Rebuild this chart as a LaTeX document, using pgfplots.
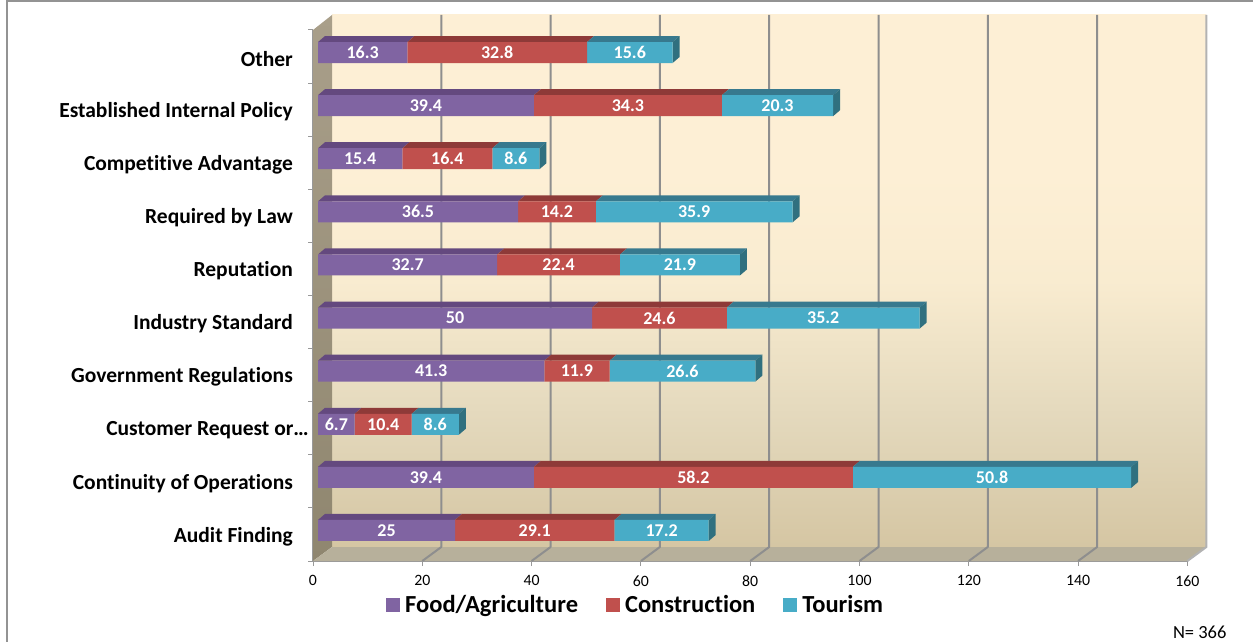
\documentclass[border=0pt]{standalone}
\usepackage{pgfplots}
\usepackage{pgfplotstable}
\usepackage{fontspec}
\setmainfont[Ligatures=NoCommon]{Carlito}
\pgfplotsset{compat=1.18}

% Value table: row position, then one column per sector
\pgfplotstableread{
pos food constr tour
0 25 29.1 17.2
1 39.4 58.2 50.8
2 6.7 10.4 8.6
3 41.3 11.9 26.6
4 50 24.6 35.2
5 32.7 22.4 21.9
6 36.5 14.2 35.9
7 15.4 16.4 8.6
8 39.4 34.3 20.3
9 16.3 32.8 15.6
}\sectors

\definecolor{foodF}{HTML}{8064A2}
\definecolor{foodT}{HTML}{64497F}
\definecolor{consF}{HTML}{C0504D}
\definecolor{consT}{HTML}{8E3A38}
\definecolor{tourF}{HTML}{48ACC7}
\definecolor{tourT}{HTML}{37798E}
\definecolor{tourS}{HTML}{30707F}
\definecolor{wallG}{HTML}{8E8E8E}
\definecolor{sideTop}{HTML}{A99F8A}
\definecolor{sideBot}{HTML}{8F866F}
\definecolor{floorC}{HTML}{B7B09B}
% only the middle band, 25bp to 75bp, falls inside the filled area
\pgfdeclareverticalshading{backwallfade}{100bp}{
  rgb(0bp)=(0.835,0.776,0.639);
  rgb(25bp)=(0.835,0.776,0.639);
  rgb(37.5bp)=(0.894,0.851,0.741);
  rgb(50bp)=(0.976,0.925,0.816);
  rgb(60bp)=(0.992,0.937,0.835);
  rgb(100bp)=(0.992,0.937,0.835)
}

% depth of one bar, in data units of the bar layer
\newcommand{\dpx}{1.277}
\newcommand{\dpy}{0.113}
\newcommand{\halfh}{0.1977}

\pgfplotsset{
  barlayer/.style={
    at={(318pt,84pt)}, anchor=south west,
    width=876.8pt, height=531pt, scale only axis,
    xmin=0, xmax=160, ymin=-0.5, ymax=9.5,
    hide axis, clip=false,
  },
}

\newcommand{\topface}[4]{% row, from, to, colour
  \pgfmathsetmacro{\ylo}{#1+\halfh}
  \pgfmathsetmacro{\yhi}{#1+\halfh+\dpy}
  \pgfmathsetmacro{\xa}{#2}
  \pgfmathsetmacro{\xb}{#3}
  \pgfmathsetmacro{\xc}{#3+\dpx}
  \pgfmathsetmacro{\xd}{#2+\dpx}
  \edef\facecmd{\noexpand\addplot[fill=#4,draw=none,forget plot] coordinates {(\xa,\ylo)(\xb,\ylo)(\xc,\yhi)(\xd,\yhi)} -- cycle;}
  \facecmd
}

\begin{document}
\begin{tikzpicture}[x=1pt,y=1pt]
\useasboundingbox (0,0) rectangle (1253,641);
% surrounding chart frame
\draw[color=gray!85,line width=2pt] (7,-2) -- (7,640) -- (1255,640);

% room: walls, floor, grid, value and category axes
\begin{axis}[
  at={(313pt,80pt)}, anchor=south west,
  width=874.4pt, height=531pt, scale only axis,
  xmin=0, xmax=160, ymin=-0.5, ymax=9.5,
  clip=false,
  axis x line*=bottom, axis y line*=left,
  axis line style={draw=gray!80, line width=1.4pt, -},
  xtick={0,20,...,160},
  ytick={0,...,9},
  yticklabels={Audit Finding,Continuity of Operations,Customer Request or…\hspace*{-16pt},Government Regulations,Industry Standard,Reputation,Required by Law,Competitive Advantage,Established Internal Policy,Other},
  minor ytick={-0.5,0.5,...,9.5},
  major tick length=5pt, minor tick length=5pt,
  tick align=outside,
  y tick style={draw=none},
  minor y tick style={draw=gray!80, line width=1pt},
  x tick style={draw=gray!80, line width=1pt},
  tick label style={font=\fontsize{15.8}{15.8}\selectfont},
  /pgf/number format/assume math mode=true,
  yticklabel style={font=\fontsize{21.5}{21.5}\selectfont\bfseries, inner sep=0pt, xshift=-15pt, yshift=-2pt, anchor=east},
  xticklabel style={yshift=-6pt},
]
% back wall, side wall and floor
\shade[shading=backwallfade] ([xshift=19pt,yshift=14pt]axis cs:0,-0.5) rectangle ([xshift=19pt,yshift=15pt]axis cs:160,9.5);
\path[top color=sideTop,bottom color=sideBot] (axis cs:0,-0.5) -- ([xshift=19pt,yshift=14pt]axis cs:0,-0.5) -- ([xshift=19pt,yshift=15pt]axis cs:0,9.5) -- (axis cs:0,9.5) -- cycle;
\fill[floorC] (axis cs:0,-0.5) -- ([xshift=19pt,yshift=14pt]axis cs:0,-0.5) -- ([xshift=19pt,yshift=14pt]axis cs:160,-0.5) -- (axis cs:160,-0.5) -- cycle;
% grid lines run across the floor and up the back wall
\pgfplotsinvokeforeach{20,40,...,140}{
  \draw[wallG,line width=2pt,line join=round] (axis cs:#1,-0.5) -- ([xshift=19pt,yshift=14pt]axis cs:#1,-0.5) -- ([xshift=19pt,yshift=15pt]axis cs:#1,9.5);
}
\draw[gray!60,line width=2pt,line join=round] (axis cs:160,-0.5) -- ([xshift=19pt,yshift=14pt]axis cs:160,-0.5) -- ([xshift=19pt,yshift=15pt]axis cs:160,9.5);
\end{axis}

% upper and end faces of the bars
\begin{axis}[barlayer]
\pgfplotsinvokeforeach{0,...,9}{
  \pgfplotstablegetelem{#1}{food}\of\sectors \let\va\pgfplotsretval
  \pgfplotstablegetelem{#1}{constr}\of\sectors \let\vb\pgfplotsretval
  \pgfplotstablegetelem{#1}{tour}\of\sectors \let\vc\pgfplotsretval
  \pgfmathsetmacro{\cumA}{\va}
  \pgfmathsetmacro{\cumB}{\va+\vb}
  \pgfmathsetmacro{\cumC}{\va+\vb+\vc}
  \topface{#1}{0}{\cumA}{foodT}
  \topface{#1}{\cumA}{\cumB}{consT}
  \topface{#1}{\cumB}{\cumC}{tourT}
  \pgfmathsetmacro{\ya}{#1-\halfh}
  \pgfmathsetmacro{\yb}{#1+\halfh}
  \pgfmathsetmacro{\yc}{#1+\halfh+\dpy}
  \pgfmathsetmacro{\yd}{#1-\halfh+\dpy}
  \pgfmathsetmacro{\xe}{\cumC+\dpx}
  \edef\endcmd{\noexpand\addplot[fill=tourS,draw=none,forget plot] coordinates {(\cumC,\ya)(\cumC,\yb)(\xe,\yc)(\xe,\yd)} -- cycle;}
  \endcmd
}
\end{axis}

% front faces of the stacked bars, their values and the key
\begin{axis}[barlayer,
  xbar stacked, bar width=21pt,
  nodes near coords, point meta=explicit symbolic,
  every node near coord/.style={font=\fontsize{18}{18}\selectfont\bfseries, text=white, inner sep=0pt},
  nodes near coords align={center},
  legend columns=3,
  legend style={draw=none, fill=none, at={(386pt-318pt,641pt-605pt-84pt)}, anchor=west, inner sep=0pt,
    font=\fontsize{24.5}{24.5}\selectfont\bfseries,
    /tikz/every even column/.append style={column sep=26pt},
    /tikz/every odd column/.append style={column sep=3pt}},
  legend cell align=left,
  legend image code/.code={\fill[#1] (0pt,-7pt) rectangle (14pt,7pt);},
]
\addplot[fill=foodF,draw=none] table[x=food,y=pos,meta=food] {\sectors};
\addplot[fill=consF,draw=none] table[x=constr,y=pos,meta=constr] {\sectors};
\addplot[fill=tourF,draw=none] table[x=tour,y=pos,meta=tour] {\sectors};
\legend{Food/Agriculture,Construction,Tourism}
\end{axis}

\node[anchor=east,font=\fontsize{18.5}{18.5}\selectfont] at (1230,9) {N= 366};
\end{tikzpicture}
\end{document}
